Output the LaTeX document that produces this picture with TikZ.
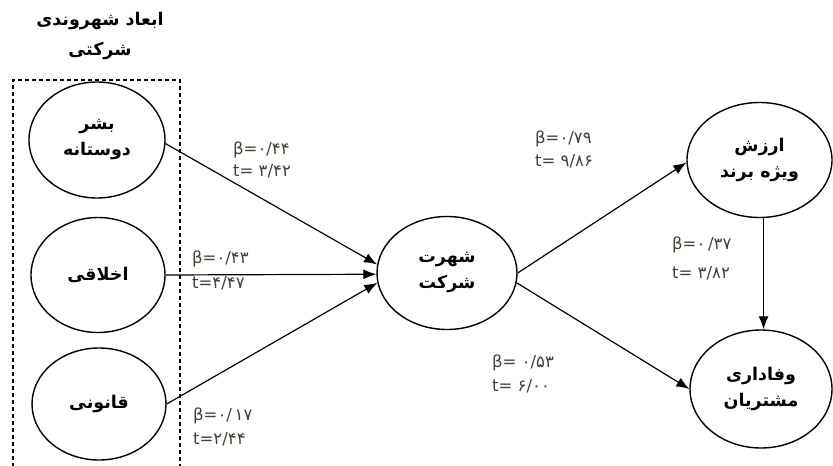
\documentclass[tikz,border=0pt]{standalone}
\usepackage{fontspec}
\usetikzlibrary{shapes.geometric,arrows.meta}
\TeXXeTstate=1
\newfontfamily\fa[Script=Arabic]{DejaVu Sans}
\newfontfamily\lab{DejaVu Sans}
\definecolor{labcol}{RGB}{70,62,56}
\begin{document}
\begin{tikzpicture}[x=1pt,y=-1pt,
  oval/.style={ellipse,draw,line width=1.4pt,inner sep=0pt,align=center,
    font=\fa\bfseries\fontsize{17.5}{26}\selectfont},
  lbl/.style={anchor=west,inner sep=0pt,text=labcol,font=\lab\fontsize{16.5}{18}\selectfont},
  arr/.style={line width=1.2pt,-{Latex[length=13pt,width=10pt]}},
  grp/.style={line width=1.3pt,dash pattern=on 4pt off 3pt}]
\useasboundingbox (0,0) rectangle (833,466);
\fill[white] (0,0) rectangle (833,466);
% title
\node[align=center,font=\fa\bfseries\fontsize{17.5}{30}\selectfont] (title) at (100,36)
  {\beginR ابعاد شهروندی\endR\\\beginR شرکتی\endR};
% group box
\draw[grp] (13,474) -- (13,80) -- (180,80) -- (180,474);
% nodes
\node[oval,minimum width=136pt,minimum height=116pt] (e1) at (97,140) {\beginR بشر\endR\\\beginR دوستانه\endR};
\node[oval,minimum width=134pt,minimum height=115pt] (e2) at (98,275) {\beginR اخلاقی\endR};
\node[oval,minimum width=134pt,minimum height=112pt] (e3) at (99,404) {\beginR قانونی\endR};
\node[oval,minimum width=140pt,minimum height=113pt] (c) at (447,273) {\beginR شهرت\endR\\\beginR شرکت\endR};
\node[oval,minimum width=145pt,minimum height=115pt] (e4) at (759.5,160) {\beginR ارزش\endR\\\beginR ویژه برند\endR};
\node[oval,minimum width=142pt,minimum height=118pt] (e5) at (761,389) {\beginR وفاداری\endR\\\beginR مشتریان\endR};
% arrows
\draw[arr] (e1.-3) -- (c.173.5);
\draw[arr] (e2.east) -- (c.181.6);
\draw[arr] (e3.east) -- (c.188);
\draw[arr] (c.east) -- (e4.182);
\draw[arr] (c.-8) -- (e5.west);
\draw[arr] (e4.-86) -- (e4.-86 |- e5.north);
% labels
\node[lbl] (b1) at (233,150) {β=۰/۴۴};
\node[lbl] (t1) at (233,171) {t= ۳/۴۲};
\node[lbl] (b2) at (192,259) {β=۰/۴۳};
\node[lbl] (t2) at (192,283) {t=۴/۴۷};
\node[lbl] (b3) at (193,416) {β=۰/\,۱۷};
\node[lbl] (t3) at (193,439) {t=۲/۴۴};
\node[lbl] (b4) at (535,139) {β=۰/۷۹};
\node[lbl] (t4) at (535,161) {t= ۹/۸۶};
\node[lbl] (b5) at (672,245) {β=۰\,/۳۷};
\node[lbl] (t5) at (672,273) {t= ۳/۸۲};
\node[lbl] (b6) at (492,363) {β= ۰/۵۳};
\node[lbl] (t6) at (492,386) {t= ۶/۰۰};
\end{tikzpicture}
\end{document}
